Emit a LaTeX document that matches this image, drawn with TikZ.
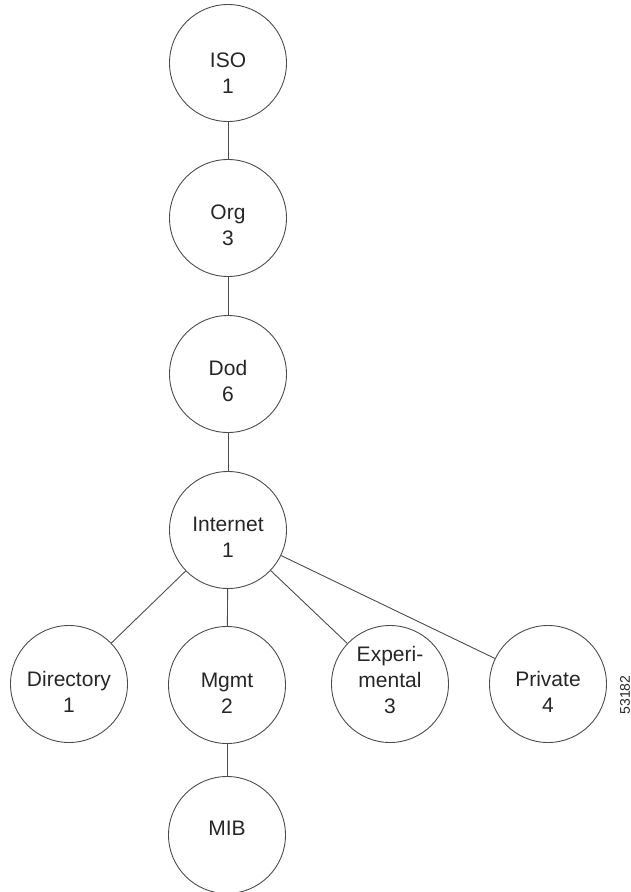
\documentclass[tikz,border=0pt]{standalone}
\usepackage{fontspec}
\setmainfont{Liberation Sans}
\begin{document}
\begin{tikzpicture}[x=1pt,y=-1pt,
  circ/.style={circle,draw=black!70,line width=0.9pt,minimum size=117pt,inner sep=0pt},
  lbl/.style={font=\fontsize{21}{26}\selectfont,text=black!85,align=center,inner sep=0pt},
  conn/.style={draw=black!70,line width=0.9pt}]
\useasboundingbox (0,0) rectangle (631,892);
\node[circ,label={[lbl,yshift=-10pt]center:ISO\\1}] (iso) at (228,63) {};
\node[circ,label={[lbl,yshift=-7pt]center:Org\\3}] (org) at (228,218) {};
\node[circ,label={[lbl,yshift=-7pt]center:Dod\\6}] (dod) at (228,374) {};
\node[circ,label={[lbl,yshift=-7pt]center:Internet\\1}] (int) at (228,530) {};
\node[circ,label={[lbl,yshift=-8pt]center:Directory\\1}] (dir) at (69,684) {};
\node[circ,label={[lbl,yshift=-8pt]center:Mgmt\\2}] (mgmt) at (227,685) {};
\node[circ,label={[lbl,yshift=4pt]center:Experi-\\mental\\3}] (exp) at (390,684) {};
\node[circ,label={[lbl,yshift=-8pt]center:Private\\4}] (priv) at (548,684) {};
\node[circ,label={[lbl,yshift=7pt]center:MIB}] (mib) at (227,835) {};
\node[font=\fontsize{14}{16}\selectfont,text=black!85,rotate=90,inner sep=0pt] (code) at (625,695) {53182};
\draw[conn] (iso) -- (org);
\draw[conn] (org) -- (dod);
\draw[conn] (dod) -- (int);
\draw[conn] (int) -- (dir);
\draw[conn] (int) -- (mgmt);
\draw[conn] (int) -- (exp);
\draw[conn] (int) -- (priv);
\draw[conn] (mgmt) -- (mib);
\end{tikzpicture}
\end{document}
